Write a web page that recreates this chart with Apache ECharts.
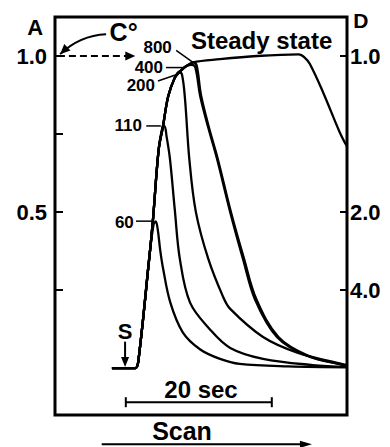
<!DOCTYPE html>
<html>
<head>
<meta charset="utf-8">
<script src="https://cdn.jsdelivr.net/npm/echarts@6/dist/echarts.min.js"></script>
<style>
html,body{margin:0;background:#fff}
#chart{width:390px;height:447px}
</style>
</head>
<body>
<div id="chart"></div>
<script>
// x: time in sec from the left frame edge, y: absorbance A (A = 1/D)
const curve60 = [[7.8,0],[11.0,0],[11.4,0.02],[12.9,0.35],[13.5,0.46],[13.8,0.47],[14.1,0.44],[14.4,0.38],[14.8,0.32],[15.8,0.21],[17.5,0.115],[19.9,0.06],[22.6,0.03],[25.3,0.014],[32,0.006],[40,0.003]]
const curve110 = [[7.8,0],[11.0,0],[11.4,0.02],[12.9,0.35],[13.4,0.47],[14.2,0.70],[14.7,0.77],[15.0,0.775],[15.3,0.74],[15.75,0.67],[16.4,0.51],[17.1,0.35],[18.5,0.21],[21.2,0.125],[24.0,0.065],[28.5,0.03],[35.3,0.01],[40,0.004]]
const curve200 = [[7.8,0],[11.0,0],[11.4,0.02],[12.9,0.35],[13.4,0.47],[14.2,0.70],[14.8,0.776],[15.5,0.87],[16.4,0.93],[17.0,0.95],[17.4,0.94],[17.8,0.865],[18.4,0.67],[19.3,0.5],[21.0,0.35],[23.0,0.23],[24.0,0.19],[28.5,0.10],[33.2,0.05],[39.5,0.012],[40,0.01]]
const curve400 = [[7.8,0],[11.0,0],[11.4,0.02],[12.9,0.35],[13.4,0.47],[14.2,0.70],[14.8,0.776],[15.5,0.87],[16.4,0.93],[17.1,0.95],[17.8,0.965],[18.6,0.972],[19.2,0.965],[19.9,0.87],[21.0,0.77],[22.2,0.67],[24.0,0.50],[25.75,0.35],[27.4,0.22],[30.4,0.10],[34.5,0.04],[39.5,0.01],[40,0.008]]
const curve800 = [[7.8,0],[11.0,0],[11.4,0.02],[12.9,0.35],[13.4,0.47],[14.2,0.70],[14.8,0.776],[15.5,0.87],[16.4,0.93],[17.1,0.95],[17.8,0.965],[18.6,0.975],[18.9,0.98],[19.4,0.97],[20.0,0.875],[21.1,0.77],[22.3,0.67],[24.1,0.50],[25.9,0.35],[27.6,0.22],[30.6,0.10],[34.7,0.04],[39.6,0.01],[40,0.008]]
const curveSteady = [[7.8,0],[11.0,0],[11.4,0.02],[12.9,0.35],[13.4,0.47],[14.2,0.70],[14.8,0.776],[15.5,0.87],[16.4,0.93],[17.1,0.95],[17.8,0.965],[18.9,0.98],[22.6,0.99],[27.7,1.0],[33.4,1.005],[34.2,0.995],[34.9,0.975],[36.7,0.885],[39.0,0.756],[40,0.71]]

const leftTicks = [0.25, 0.5, 0.75, 1.0]
const leftLabels = [0.5, 1.0]
const rightTicks = [0.25, 0.5, 1.0]   // D = 4.0, 2.0, 1.0

// curve labels: text, text right end, leader line start/end (data coords)
const labelText = ['60', '110', '200', '400', '800']
const labelAt = [[10.8,0.468],[11.9,0.776],[13.7,0.907],[14.8,0.963],[16.0,1.028]]
const leaderFrom = [[11.1,0.471],[12.5,0.776],[14.1,0.92],[15.2,0.963],[16.6,1.018]]
const leaderTo = [[13.3,0.471],[14.5,0.776],[16.6,0.94],[17.6,0.963],[18.9,0.98]]

const scaleBar = [[9.7,-0.109],[29.7,-0.109]]
const scanArrow = [[6.4,-0.244],[35.2,-0.244]]

const chart = echarts.init(document.getElementById('chart'), null, {renderer: 'svg'})
const font = '"Liberation Sans", Arial, sans-serif'

function lineSeries(name, data) {
  return {
    name: name, type: 'line', data: data, showSymbol: false,
    smooth: 0.35, silent: true,
    lineStyle: {color: '#000', width: 2.3}
  }
}

chart.setOption({
  animation: false,
  grid: {left: 55, right: 43, top: 17, bottom: 32, show: true, borderColor: '#000', borderWidth: 3},
  xAxis: {type: 'value', min: 0, max: 40, show: false},
  yAxis: [
    {
      type: 'value', min: -0.15, max: 1.125, position: 'left',
      splitLine: {show: false}, axisLine: {show: false},
      axisTick: {show: true, inside: true, length: 8, customValues: leftTicks, lineStyle: {color: '#000', width: 2}},
      axisLabel: {customValues: leftLabels, margin: 8, color: '#000', fontSize: 22, fontWeight: 'bold', fontFamily: font,
        formatter: v => v.toFixed(1)}
    },
    {
      type: 'value', min: -0.15, max: 1.125, position: 'right',
      splitLine: {show: false}, axisLine: {show: false},
      axisTick: {show: true, inside: true, length: 7, customValues: rightTicks, lineStyle: {color: '#000', width: 2}},
      axisLabel: {customValues: rightTicks, margin: 3, color: '#000', fontSize: 22, fontWeight: 'bold', fontFamily: font,
        formatter: v => (1 / v).toFixed(1)}
    }
  ],
  series: [
    lineSeries('60', curve60),
    lineSeries('110', curve110),
    lineSeries('200', curve200),
    lineSeries('400', curve400),
    lineSeries('800', curve800),
    lineSeries('Steady state', curveSteady)
  ]
})

const px = p => chart.convertToPixel({gridIndex: 0}, p)

function text(str, p, size, align) {
  const q = px(p)
  return {
    type: 'text', silent: true,
    style: {text: str, x: q[0], y: q[1], fill: '#000',
      font: 'bold ' + size + 'px ' + font,
      align: align, textAlign: align, verticalAlign: 'middle', textVerticalAlign: 'middle'}
  }
}
function seg(a, b, w, dash) {
  const p = px(a), q = px(b)
  return {type: 'line', silent: true, shape: {x1: p[0], y1: p[1], x2: q[0], y2: q[1]},
    style: {stroke: '#000', lineWidth: w, lineDash: dash || null}}
}
function head(tip, from, len, half) {
  const dx = tip[0] - from[0], dy = tip[1] - from[1]
  const d = Math.sqrt(dx * dx + dy * dy), ux = dx / d, uy = dy / d
  const bx = tip[0] - ux * len, by = tip[1] - uy * len
  return {type: 'polygon', silent: true,
    shape: {points: [tip, [bx - uy * half, by + ux * half], [bx + uy * half, by - ux * half]]},
    style: {fill: '#000'}}
}

const g = []
for (let i = 0; i < labelText.length; i++) {
  g.push(text(labelText[i], labelAt[i], 17, 'right'))
  g.push(seg(leaderFrom[i], leaderTo[i], 1.5))
}
g.push(text('Steady state', [28.3, 1.05], 24, 'center'))
g.push(text('A', [-2.7, 1.09], 22, 'center'))
g.push(text('D', [41.9, 1.115], 21, 'center'))
g.push(text('C°', [9.4, 1.078], 25, 'center'))
g.push(text('S', [9.6, 0.119], 22, 'center'))
g.push(text('20 sec', [20.0, -0.067], 24, 'center'))
g.push(text('Scan', [17.4, -0.2], 25, 'center'))

// C° curved arrow into the axis
const c0 = px([7.0, 1.07]), c1 = px([3.4, 1.066]), c2 = px([0.7, 1.006])
g.push({type: 'bezierCurve', silent: true,
  shape: {x1: c0[0], y1: c0[1], cpx1: c1[0], cpy1: c1[1], x2: c2[0], y2: c2[1]},
  style: {stroke: '#000', lineWidth: 2, fill: null}})
g.push(head(c2, c1, 10, 4.5))

// dashed arrow along A = 1.0
g.push(seg([0.4, 1.0], [9.9, 1.0], 2, [7, 4]))
g.push(head(px([11.0, 1.0]), px([9.0, 1.0]), 10, 4.5))

// S arrow
g.push(seg([9.6, 0.085], [9.6, 0.02], 2))
g.push(head(px([9.6, 0.004]), px([9.6, 0.08]), 10, 4))

// 20 sec bar
g.push(seg(scaleBar[0], scaleBar[1], 2))
const sb0 = px(scaleBar[0]), sb1 = px(scaleBar[1])
g.push({type: 'line', silent: true, shape: {x1: sb0[0], y1: sb0[1] - 5, x2: sb0[0], y2: sb0[1] + 5}, style: {stroke: '#000', lineWidth: 2}})
g.push({type: 'line', silent: true, shape: {x1: sb1[0], y1: sb1[1] - 5, x2: sb1[0], y2: sb1[1] + 5}, style: {stroke: '#000', lineWidth: 2}})

// Scan arrow
g.push(seg(scanArrow[0], [34.2, -0.244], 2))
g.push(head(px(scanArrow[1]), px(scanArrow[0]), 12, 3.5))

chart.setOption({graphic: g})
</script>
</body>
</html>
